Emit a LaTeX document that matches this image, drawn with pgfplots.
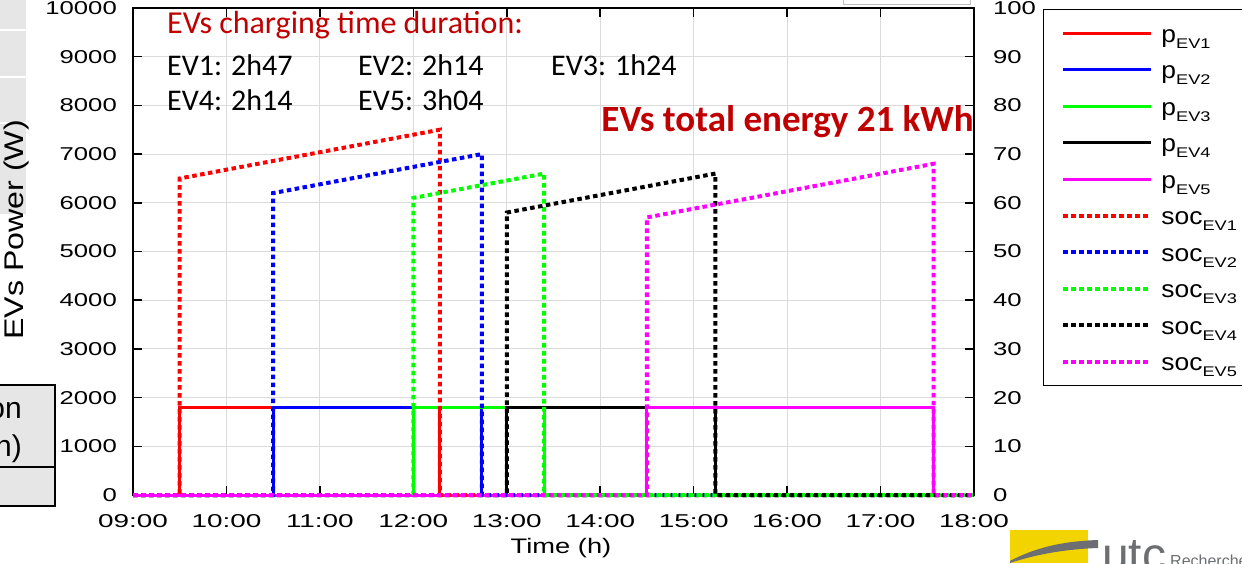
\documentclass[border=0pt]{standalone}
\usepackage{pgfplots}
\pgfplotsset{compat=1.18}
\usepackage{fontspec}
\setmainfont{Liberation Sans}
\newfontfamily\calibri{Carlito}
\definecolor{dred}{HTML}{C00000}
\definecolor{evred}{HTML}{FF0000}
\definecolor{evblue}{HTML}{0000FF}
\definecolor{evgreen}{HTML}{00FF00}
\definecolor{evmag}{HTML}{FF00FF}
\definecolor{cellgray}{HTML}{E6E6E6}
\definecolor{logoyellow}{HTML}{F2D500}
\definecolor{logogray}{HTML}{6D6E71}
\newcommand{\hs}[1]{\scalebox{1.38}[1]{#1}}
\newcommand{\hx}[1]{\scalebox{1.5}[1]{#1}}
\newcommand{\legtxt}[2]{{\fontsize{24}{24}\selectfont\scalebox{1.1}[1]{#1}}\raisebox{-6pt}{\fontsize{14}{14}\selectfont\scalebox{1.3}[1]{#2}}}
\pgfplotsset{
  pstyle/.style={line width=3pt},
  socstyle/.style={line width=4pt, dash pattern=on 4.5pt off 3.5pt},
}
\begin{document}
\begin{tikzpicture}
\useasboundingbox (0pt,0pt) rectangle (1242pt,563pt);
% slide remnants behind the chart
\fill[cellgray] (0pt,563pt) rectangle (26pt,349pt);
\draw[white, line width=2pt] (0pt,533pt) -- (26pt,533pt) (0pt,486pt) -- (26pt,486pt) (0pt,440pt) -- (26pt,440pt);
\draw[black!25, line width=1pt] (843pt,563pt) -- (843pt,558pt) -- (970pt,558pt) -- (970pt,563pt);
\filldraw[fill=cellgray, draw=black, line width=2pt] (-2pt,178pt) rectangle (55pt,57pt);
\draw[black, line width=2pt] (-2pt,96pt) -- (55pt,96pt);
\node[anchor=base east, inner sep=0pt, font=\fontsize{30}{30}\selectfont] at (22pt,145pt) {on};
\node[anchor=base east, inner sep=0pt, font=\fontsize{30}{30}\selectfont] at (22pt,107pt) {h)};
\fill[logoyellow] (1010pt,0pt) rectangle (1088pt,33pt);
\fill[logogray] (1010pt,2pt) .. controls (1040pt,18pt) and (1070pt,22pt) .. (1098pt,23pt) -- (1098pt,15pt) .. controls (1070pt,14pt) and (1040pt,10pt) .. (1010pt,0pt) -- cycle;
\node[anchor=base west, inner sep=0pt, text=logogray, font=\fontsize{48}{48}\selectfont] at (1102pt,-8pt) {utc};
\node[anchor=base west, inner sep=0pt, text=logogray, font=\fontsize{16}{16}\selectfont] at (1170pt,-3pt) {Recherche};
\begin{axis}[
  at={(133pt,68pt)}, anchor=south west, scale only axis,
  width=841pt, height=487pt,
  xmin=9, xmax=18, ymin=0, ymax=10000,
  xtick={9,10,...,18},
  xticklabels={\hx{09:00},\hx{10:00},\hx{11:00},\hx{12:00},\hx{13:00},\hx{14:00},\hx{15:00},\hx{16:00},\hx{17:00},\hx{18:00}},
  ytick={0,1000,...,10000},
  yticklabels={\hs{0},\hs{1000},\hs{2000},\hs{3000},\hs{4000},\hs{5000},\hs{6000},\hs{7000},\hs{8000},\hs{9000},\hs{10000}},
  ytick pos=left, xtick pos=both,
  tick align=inside, major tick length=9pt,
  tick style={black, line width=1.5pt},
  axis line style={line width=2pt},
  axis background/.style={fill=white},
  grid=major, major grid style={line width=1pt, color=black!14},
  tick label style={font=\fontsize{18.6}{20}\selectfont},
  xticklabel style={inner sep=0pt, anchor=north, yshift=-19pt},
  yticklabel style={inner sep=0pt, anchor=east, xshift=-16pt},
  clip=false,
]
\addplot[evred, pstyle] coordinates {(9,0) (9.5,0) (9.5,1800) (12.2833,1800) (12.2833,0) (18,0)};
\addplot[evblue, pstyle] coordinates {(9,0) (10.5,0) (10.5,1800) (12.7333,1800) (12.7333,0) (18,0)};
\addplot[evgreen, pstyle] coordinates {(9,0) (12,0) (12,1800) (13.4,1800) (13.4,0) (18,0)};
\addplot[black, pstyle] coordinates {(9,0) (13,0) (13,1800) (15.2333,1800) (15.2333,0) (18,0)};
\addplot[evmag, pstyle] coordinates {(9,0) (14.5,0) (14.5,1800) (17.5667,1800) (17.5667,0) (18,0)};
\end{axis}
\begin{axis}[
  at={(133pt,68pt)}, anchor=south west, scale only axis,
  width=841pt, height=487pt,
  xmin=9, xmax=18, ymin=0, ymax=100,
  axis y line*=right, axis x line=none,
  ytick={0,10,...,100},
  yticklabels={\hs{0},\hs{10},\hs{20},\hs{30},\hs{40},\hs{50},\hs{60},\hs{70},\hs{80},\hs{90},\hs{100}},
  tick align=inside, major tick length=9pt,
  tick style={black, line width=1.5pt},
  axis line style={line width=2pt},
  tick label style={font=\fontsize{18.6}{20}\selectfont},
  yticklabel style={inner sep=0pt, anchor=west, xshift=19pt},
  clip=false,
  legend style={at={(1.082,0.998)}, anchor=north west, draw=black, line width=1pt, fill=white,
    inner xsep=18pt, inner ysep=8pt, row sep=4.5pt, column sep=8pt,
    nodes={inner sep=0pt, text height=25pt, text depth=7pt}},
  legend cell align=left,
  legend image code/.code={\draw[#1] (0pt,0pt) -- (88pt,0pt);},
]
\addlegendimage{evred, pstyle}
\addlegendimage{evblue, pstyle}
\addlegendimage{evgreen, pstyle}
\addlegendimage{black, pstyle}
\addlegendimage{evmag, pstyle}
\addplot[evred, socstyle] coordinates {(9,0) (9.5,0) (9.5,65) (12.2833,75) (12.2833,0) (18,0)};
\addplot[evblue, socstyle] coordinates {(9,0) (10.5,0) (10.5,62) (12.7333,70) (12.7333,0) (18,0)};
\addplot[evgreen, socstyle] coordinates {(9,0) (12,0) (12,61) (13.4,66) (13.4,0) (18,0)};
\addplot[black, socstyle] coordinates {(9,0) (13,0) (13,58) (15.2333,66) (15.2333,0) (18,0)};
\addplot[evmag, socstyle] coordinates {(9,0) (14.5,0) (14.5,57) (17.5667,68) (17.5667,0) (18,0)};
\legend{\legtxt{p}{EV1},\legtxt{p}{EV2},\legtxt{p}{EV3},\legtxt{p}{EV4},\legtxt{p}{EV5},
  \legtxt{soc}{EV1},\legtxt{soc}{EV2},\legtxt{soc}{EV3},\legtxt{soc}{EV4},\legtxt{soc}{EV5}}
\end{axis}
\node[anchor=base west, text=dred, font=\calibri\fontsize{32}{32}\selectfont, inner sep=0pt] at (167pt,529pt) {EVs charging time duration:};
\node[anchor=base west, font=\calibri\fontsize{30}{30}\selectfont, inner sep=0pt] at (167pt,487pt) {EV1: 2h47};
\node[anchor=base west, font=\calibri\fontsize{30}{30}\selectfont, inner sep=0pt] at (358pt,487pt) {EV2: 2h14};
\node[anchor=base west, font=\calibri\fontsize{30}{30}\selectfont, inner sep=0pt] at (551pt,487pt) {EV3: 1h24};
\node[anchor=base west, font=\calibri\fontsize{30}{30}\selectfont, inner sep=0pt] at (167pt,452pt) {EV4: 2h14};
\node[anchor=base west, font=\calibri\fontsize{30}{30}\selectfont, inner sep=0pt] at (358pt,452pt) {EV5: 3h04};
\node[anchor=base east, text=dred, font=\calibri\bfseries\fontsize{37}{37}\selectfont, inner sep=0pt] at (974pt,431pt) {EVs total energy 21 kWh};
\node[rotate=90, anchor=base, inner sep=0pt, font=\fontsize{27}{27}\selectfont] at (23pt,333pt) {\scalebox{1.19}[1]{EVs Power (W)}};
\node[anchor=base, inner sep=0pt, font=\fontsize{21}{21}\selectfont] at (561pt,10pt) {\scalebox{1.3}[1]{Time (h)}};
\end{tikzpicture}
\end{document}
